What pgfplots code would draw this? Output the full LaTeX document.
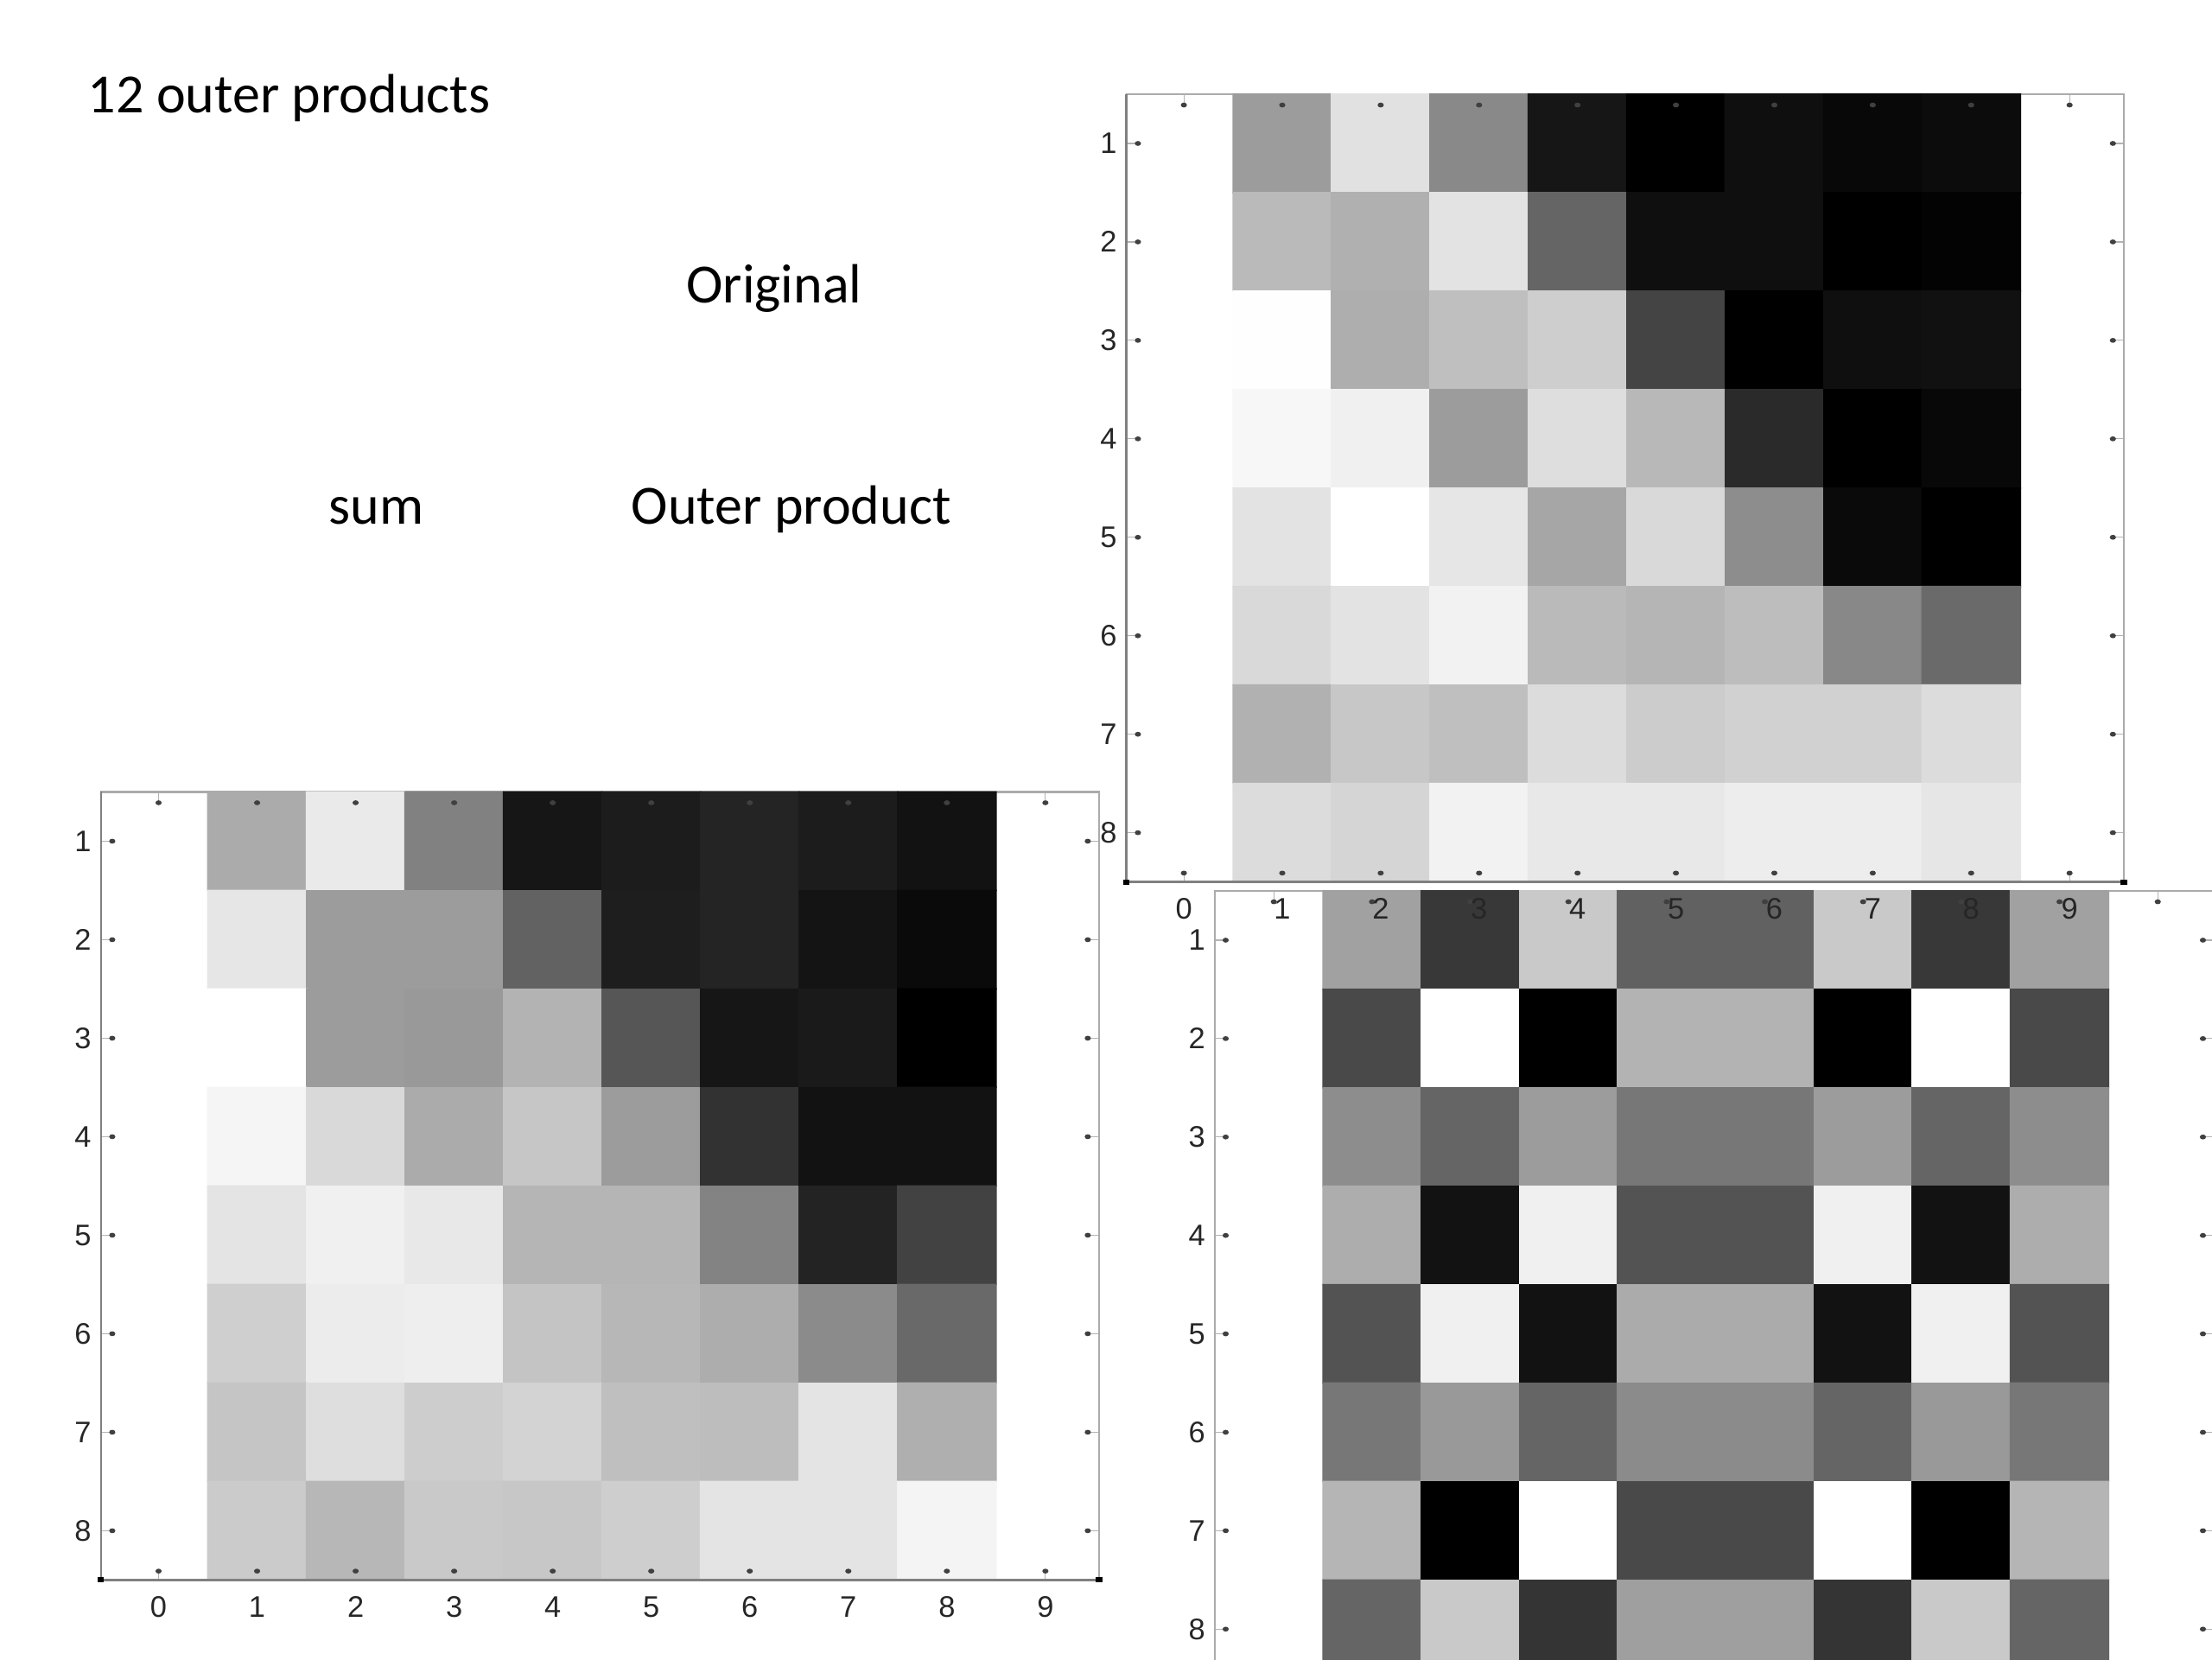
\documentclass[border=0pt]{standalone}
\usepackage{fontspec}
\setmainfont{Liberation Sans}
\newfontfamily\carlito{Carlito}
\usepackage{pgfplots}
\pgfplotsset{compat=1.18}
\pgfplotsset{
  hm/.style={
    scale only axis, anchor=north west, y dir=reverse,
    ymin=0.5, ymax=8.5,
    xtick={0,1,2,3,4,5,6,7,8,9}, ytick={1,2,3,4,5,6,7,8},
    xticklabel pos=lower, yticklabel pos=lower,
    tick align=inside, major tick length=3pt,
    tick style={color=black!30, line width=0.3pt},
    axis line style={color=black!33, line width=0.55pt},
    /pgf/number format/assume math mode=true,
    tick label style={font=\fontsize{8.6}{10}\selectfont, inner sep=0pt, text=black!85},
    x tick label style={yshift=-4.6pt},
    y tick label style={xshift=-2.6pt},
    colormap={g}{gray(0cm)=(0); gray(1cm)=(1)},
    point meta min=0, point meta max=255,
    clip=false,
    axis on top=false,
  },
  hmplot/.style={matrix plot*, mesh/cols=8, point meta=explicit},
  blob/.style={only marks, mark=*, mark size=0.5pt, color=black!75, mark options={xscale=1.35, draw=none, fill=black!75}},
  corner/.style={only marks, mark=square*, mark size=0.55pt, color=black, mark options={xscale=1.3, draw=none, fill=black}},
}
\newcommand{\tickblobs}[2]{%
  \addplot[blob] coordinates {(0,0.61)(1,0.61)(2,0.61)(3,0.61)(4,0.61)(5,0.61)(6,0.61)(7,0.61)(8,0.61)(9,0.61)
    (0,8.41)(1,8.41)(2,8.41)(3,8.41)(4,8.41)(5,8.41)(6,8.41)(7,8.41)(8,8.41)(9,8.41)
    (#1,1)(#1,2)(#1,3)(#1,4)(#1,5)(#1,6)(#1,7)(#1,8)
    (#2,1)(#2,2)(#2,3)(#2,4)(#2,5)(#2,6)(#2,7)(#2,8)};}
\begin{document}
\begin{tikzpicture}
\path[use as bounding box] (0,0) rectangle (640pt,-480pt);
\clip (0,0) rectangle (640pt,-480pt);

% Outer product
\begin{axis}[hm, at={(351.5pt,-257.75pt)}, width=289pt, height=227.8pt,
  xmin=-0.6, xmax=9.57, xticklabels={}]
\addplot[hmplot] coordinates {
(1,1)[160](2,1)[56](3,1)[200](4,1)[96](5,1)[96](6,1)[200](7,1)[56](8,1)[160]
(1,2)[72](2,2)[255](3,2)[0](4,2)[178](5,2)[178](6,2)[0](7,2)[255](8,2)[72]
(1,3)[140](2,3)[100](3,3)[155](4,3)[118](5,3)[118](6,3)[155](7,3)[100](8,3)[140]
(1,4)[172](2,4)[18](3,4)[238](4,4)[82](5,4)[82](6,4)[238](7,4)[18](8,4)[172]
(1,5)[82](2,5)[238](3,5)[18](4,5)[170](5,5)[170](6,5)[18](7,5)[238](8,5)[82]
(1,6)[118](2,6)[152](3,6)[100](4,6)[138](5,6)[138](6,6)[100](7,6)[152](8,6)[118]
(1,7)[180](2,7)[0](3,7)[255](4,7)[72](5,7)[72](6,7)[255](7,7)[0](8,7)[180]
(1,8)[100](2,8)[200](3,8)[52](4,8)[158](5,8)[158](6,8)[52](7,8)[200](8,8)[100]
};
\tickblobs{-0.49}{9.46}
\end{axis}

% Sum
\begin{axis}[hm, at={(29.2pt,-229.1pt)}, width=288.8pt, height=228pt,
  xmin=-0.585, xmax=9.545]
\addplot[hmplot] coordinates {
(1,1)[170](2,1)[232](3,1)[128](4,1)[22](5,1)[28](6,1)[36](7,1)[28](8,1)[18]
(1,2)[228](2,2)[155](3,2)[155](4,2)[97](5,2)[30](6,2)[36](7,2)[20](8,2)[10]
(1,3)[255](2,3)[155](3,3)[152](4,3)[178](5,3)[85](6,3)[22](7,3)[26](8,3)[0]
(1,4)[243](2,4)[215](3,4)[170](4,4)[197](5,4)[155](6,4)[50](7,4)[18](8,4)[18]
(1,5)[226](2,5)[238](3,5)[230](4,5)[180](5,5)[180](6,5)[130](7,5)[35](8,5)[66]
(1,6)[206](2,6)[234](3,6)[236](4,6)[195](5,6)[182](6,6)[172](7,6)[138](8,6)[104]
(1,7)[196](2,7)[220](3,7)[204](4,7)[210](5,7)[190](6,7)[188](7,7)[226](8,7)[174]
(1,8)[202](2,8)[182](3,8)[200](4,8)[198](5,8)[205](6,8)[226](7,8)[226](8,8)[242]
};
\tickblobs{-0.47}{9.43}
\addplot[corner] coordinates {(-0.585,8.5)(9.545,8.5)};
\draw[color=black!50, line width=0.6pt] (axis cs:-0.585,0.5) -- (axis cs:-0.585,8.5) -- (axis cs:9.545,8.5);
\end{axis}

% Original
\begin{axis}[hm, at={(325.9pt,-27.25pt)}, width=288.6pt, height=227.9pt,
  xmin=-0.584, xmax=9.552]
\addplot[hmplot] coordinates {
(1,1)[155](2,1)[223](3,1)[136](4,1)[22](5,1)[0](6,1)[15](7,1)[8](8,1)[12]
(1,2)[185](2,2)[175](3,2)[225](4,2)[100](5,2)[15](6,2)[15](7,2)[0](8,2)[3]
(1,3)[252](2,3)[173](3,3)[190](4,3)[205](5,3)[68](6,3)[0](7,3)[15](8,3)[17]
(1,4)[245](2,4)[238](3,4)[155](4,4)[220](5,4)[183](6,4)[42](7,4)[0](8,4)[8]
(1,5)[225](2,5)[255](3,5)[228](4,5)[165](5,5)[215](6,5)[140](7,5)[10](8,5)[0]
(1,6)[215](2,6)[225](3,6)[240](4,6)[185](5,6)[180](6,6)[188](7,6)[135](8,6)[105]
(1,7)[176](2,7)[198](3,7)[190](4,7)[218](5,7)[203](6,7)[208](7,7)[208](8,7)[218]
(1,8)[218](2,8)[212](3,8)[240](4,8)[230](5,8)[230](6,8)[235](7,8)[235](8,8)[228]
};
\tickblobs{-0.467}{9.44}
\addplot[corner] coordinates {(-0.584,8.5)(9.552,8.5)};
\draw[color=black!50, line width=0.6pt] (axis cs:-0.584,0.5) -- (axis cs:-0.584,8.5) -- (axis cs:9.552,8.5);
\end{axis}

\node[anchor=base west, inner sep=0pt, font=\carlito\fontsize{16}{19}\selectfont] at (25.25pt,-32.5pt) {12 outer products};
\node[anchor=base west, inner sep=0pt, font=\carlito\fontsize{16}{19}\selectfont] at (198.4pt,-87.7pt) {Original};
\node[anchor=base west, inner sep=0pt, font=\carlito\fontsize{16}{19}\selectfont] at (95pt,-151.7pt) {sum};
\node[anchor=base west, inner sep=0pt, font=\carlito\fontsize{16}{19}\selectfont] at (182.5pt,-151.7pt) {Outer product};
\end{tikzpicture}
\end{document}
